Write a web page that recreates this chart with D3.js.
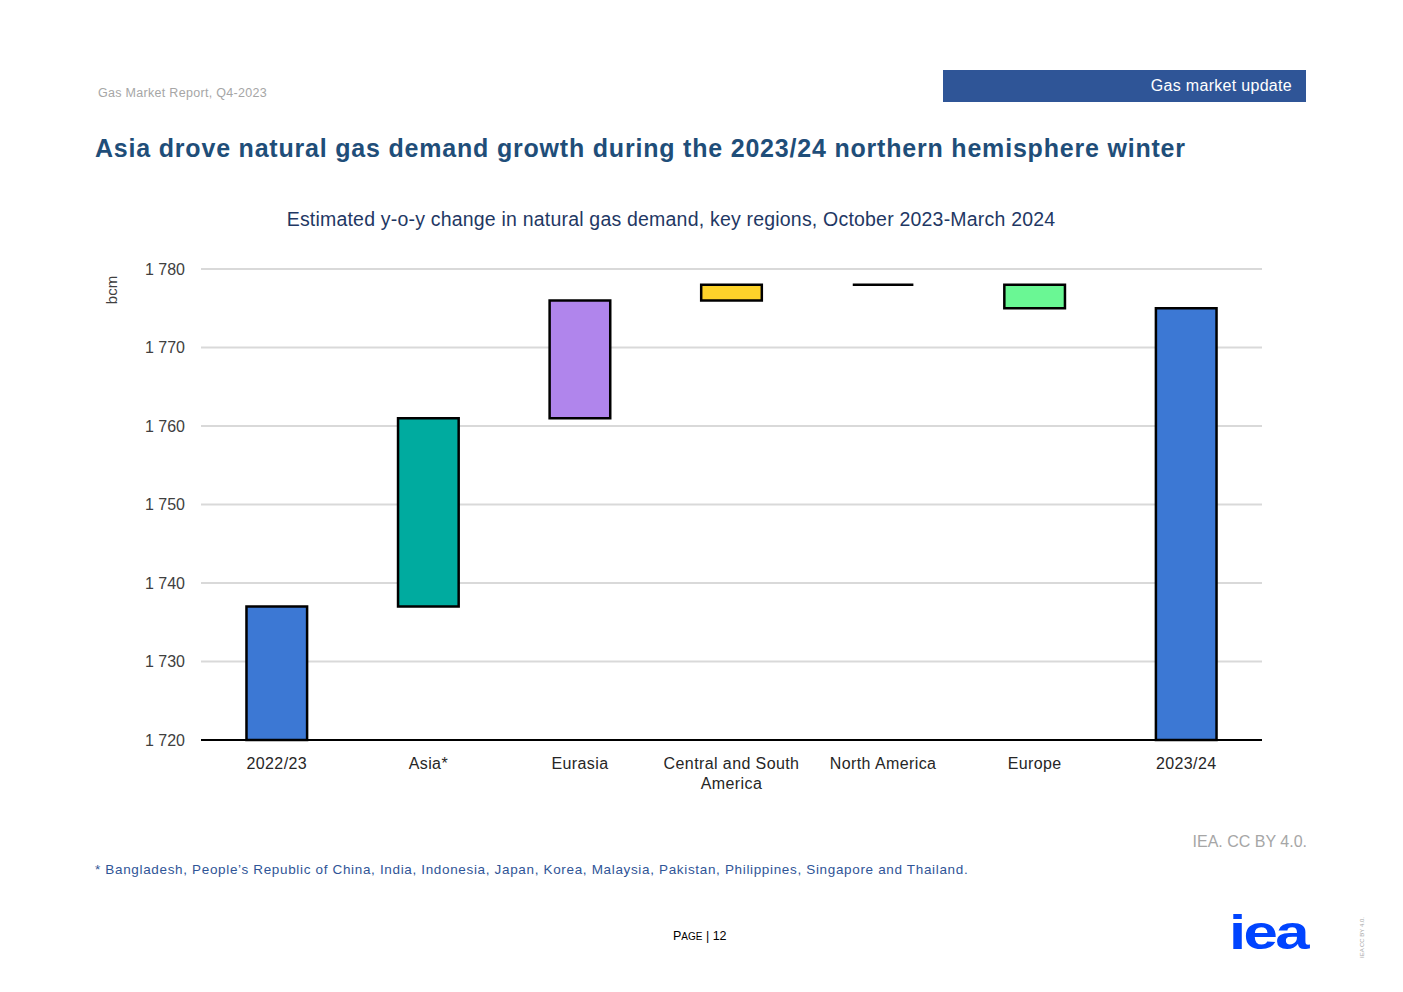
<!DOCTYPE html>
<html>
<head>
<meta charset="utf-8">
<script src="https://cdn.jsdelivr.net/npm/d3@7"></script>
<style>
  body { margin: 0; background: #fff; }
  text { font-family: "Liberation Sans", Arial, sans-serif; }
</style>
</head>
<body>
<svg id="chart" width="1403" height="992"></svg>
<script>
// chart data
var categories = ["2022/23", "Asia*", "Eurasia", "Central and South America", "North America", "Europe", "2023/24"];
var values = [1737, 24, 15, 2, 0, -3, 1775];
var kinds = ["total", "delta", "delta", "delta", "delta", "delta", "total"];
var barColors = ["#3c78d4", "#00ab9f", "#b085ec", "#fdd32a", "#000000", "#6af794", "#3c78d4"];
var yTicks = [1720, 1730, 1740, 1750, 1760, 1770, 1780];

var svg = d3.select("#chart");

// header
svg.append("text")
    .attr("x", 98).attr("y", 97)
    .attr("font-size", "12.5px").attr("fill", "#a6a6a6")
    .attr("letter-spacing", "0.3px")
    .text("Gas Market Report, Q4-2023");

svg.append("rect")
    .attr("x", 943).attr("y", 70).attr("width", 363).attr("height", 32)
    .attr("fill", "#2f5597");
svg.append("text")
    .attr("x", 1292).attr("y", 91)
    .attr("text-anchor", "end")
    .attr("font-size", "16px").attr("fill", "#ffffff")
    .attr("letter-spacing", "0.3px")
    .text("Gas market update");

// titles
svg.append("text")
    .attr("x", 95).attr("y", 157)
    .attr("font-size", "25px").attr("font-weight", "bold").attr("fill", "#1f4e79")
    .attr("letter-spacing", "0.8px")
    .text("Asia drove natural gas demand growth during the 2023/24 northern hemisphere winter");

svg.append("text")
    .attr("x", 671).attr("y", 226)
    .attr("text-anchor", "middle")
    .attr("font-size", "19.5px").attr("fill", "#1f3864")
    .attr("letter-spacing", "0.2px")
    .text("Estimated y-o-y change in natural gas demand, key regions, October 2023-March 2024");

// plot area
var plotLeft = 201, plotRight = 1262, plotTop = 269, plotBottom = 740;

var x = d3.scaleBand()
    .domain(categories)
    .range([plotLeft, plotRight])
    .paddingInner(0.6)
    .paddingOuter(0.3);

var y = d3.scaleLinear()
    .domain([1720, 1780])
    .range([plotBottom, plotTop]);

// gridlines
svg.append("g")
    .selectAll("line")
    .data(yTicks.slice(1))
    .enter().append("line")
    .attr("x1", plotLeft).attr("x2", plotRight)
    .attr("y1", function (d) { return y(d); })
    .attr("y2", function (d) { return y(d); })
    .attr("stroke", "#d9d9d9")
    .attr("stroke-width", 2);

// y axis
var yAxis = svg.append("g")
    .attr("transform", "translate(" + plotLeft + ",0)")
    .call(d3.axisLeft(y).tickValues(yTicks).tickSize(0).tickPadding(16)
        .tickFormat(function (d) { return d3.format(",")(d).replace(",", " "); }));
yAxis.select(".domain").remove();
yAxis.selectAll("text")
    .attr("font-size", "16px")
    .attr("fill", "#404040")
    .attr("font-family", "Liberation Sans, Arial, sans-serif");

svg.append("text")
    .attr("transform", "translate(117,290) rotate(-90)")
    .attr("text-anchor", "middle")
    .attr("font-size", "15px").attr("fill", "#404040")
    .text("bcm");

// waterfall steps
var running = 0;
var bars = categories.map(function (c, i) {
    var lo, hi;
    if (kinds[i] === "total") {
        lo = 1720; hi = values[i];
        running = values[i];
    } else {
        var next = running + values[i];
        lo = Math.min(running, next); hi = Math.max(running, next);
        running = next;
    }
    return { cat: c, lo: lo, hi: hi, color: barColors[i] };
});

svg.append("g")
    .selectAll("path")
    .data(bars)
    .enter().append("path")
    .attr("d", function (d) {
        var p = d3.path();
        var x0 = x(d.cat), x1 = x(d.cat) + x.bandwidth();
        p.moveTo(x0, y(d.hi));
        p.lineTo(x1, y(d.hi));
        p.lineTo(x1, y(d.lo));
        p.lineTo(x0, y(d.lo));
        p.closePath();
        return p.toString();
    })
    .attr("fill", function (d) { return d.color; })
    .attr("stroke", "#000000")
    .attr("stroke-width", 2.5);

// x axis
var xAxis = svg.append("g")
    .attr("transform", "translate(0," + plotBottom + ")")
    .call(d3.axisBottom(x).tickSize(0).tickPadding(18));
xAxis.select(".domain").attr("stroke", "#000").attr("stroke-width", 2)
    .attr("d", "M" + plotLeft + ",0H" + plotRight);
xAxis.selectAll(".tick text")
    .attr("font-size", "16px")
    .attr("fill", "#262626")
    .attr("font-family", "Liberation Sans, Arial, sans-serif")
    .attr("letter-spacing", "0.4px")
    .each(function (d) {
        var t = d3.select(this);
        if (d === "Central and South America") {
            t.text(null);
            t.append("tspan").attr("x", 0).attr("dy", "0.71em").text("Central and South");
            t.append("tspan").attr("x", 0).attr("dy", "1.25em").text("America");
        }
    });

// footer
svg.append("text")
    .attr("x", 1307).attr("y", 847)
    .attr("text-anchor", "end")
    .attr("font-size", "16px").attr("fill", "#a6a6a6")
    .text("IEA. CC BY 4.0.");

svg.append("text")
    .attr("x", 95).attr("y", 874)
    .attr("font-size", "13.5px").attr("fill", "#2f5597")
    .attr("letter-spacing", "0.66px")
    .text("* Bangladesh, People\u2019s Republic of China, India, Indonesia, Japan, Korea, Malaysia, Pakistan, Philippines, Singapore and Thailand.");

var page = svg.append("text")
    .attr("x", 673).attr("y", 940)
    .attr("font-size", "12.5px").attr("fill", "#000");
page.append("tspan").text("P");
page.append("tspan").attr("font-size", "10px").text("AGE");
page.append("tspan").text(" | 12");

svg.append("text")
    .attr("x", 1229).attr("y", 949)
    .attr("font-size", "48px").attr("font-weight", "bold").attr("fill", "#0044ff")
    .attr("letter-spacing", "-2px")
    .attr("textLength", 78)
    .attr("lengthAdjust", "spacingAndGlyphs")
    .text("iea");

svg.append("text")
    .attr("transform", "translate(1364,958) rotate(-90)")
    .attr("font-size", "6px").attr("fill", "#a6a6a6")
    .text("IEA CC BY 4.0.");
</script>
</body>
</html>
